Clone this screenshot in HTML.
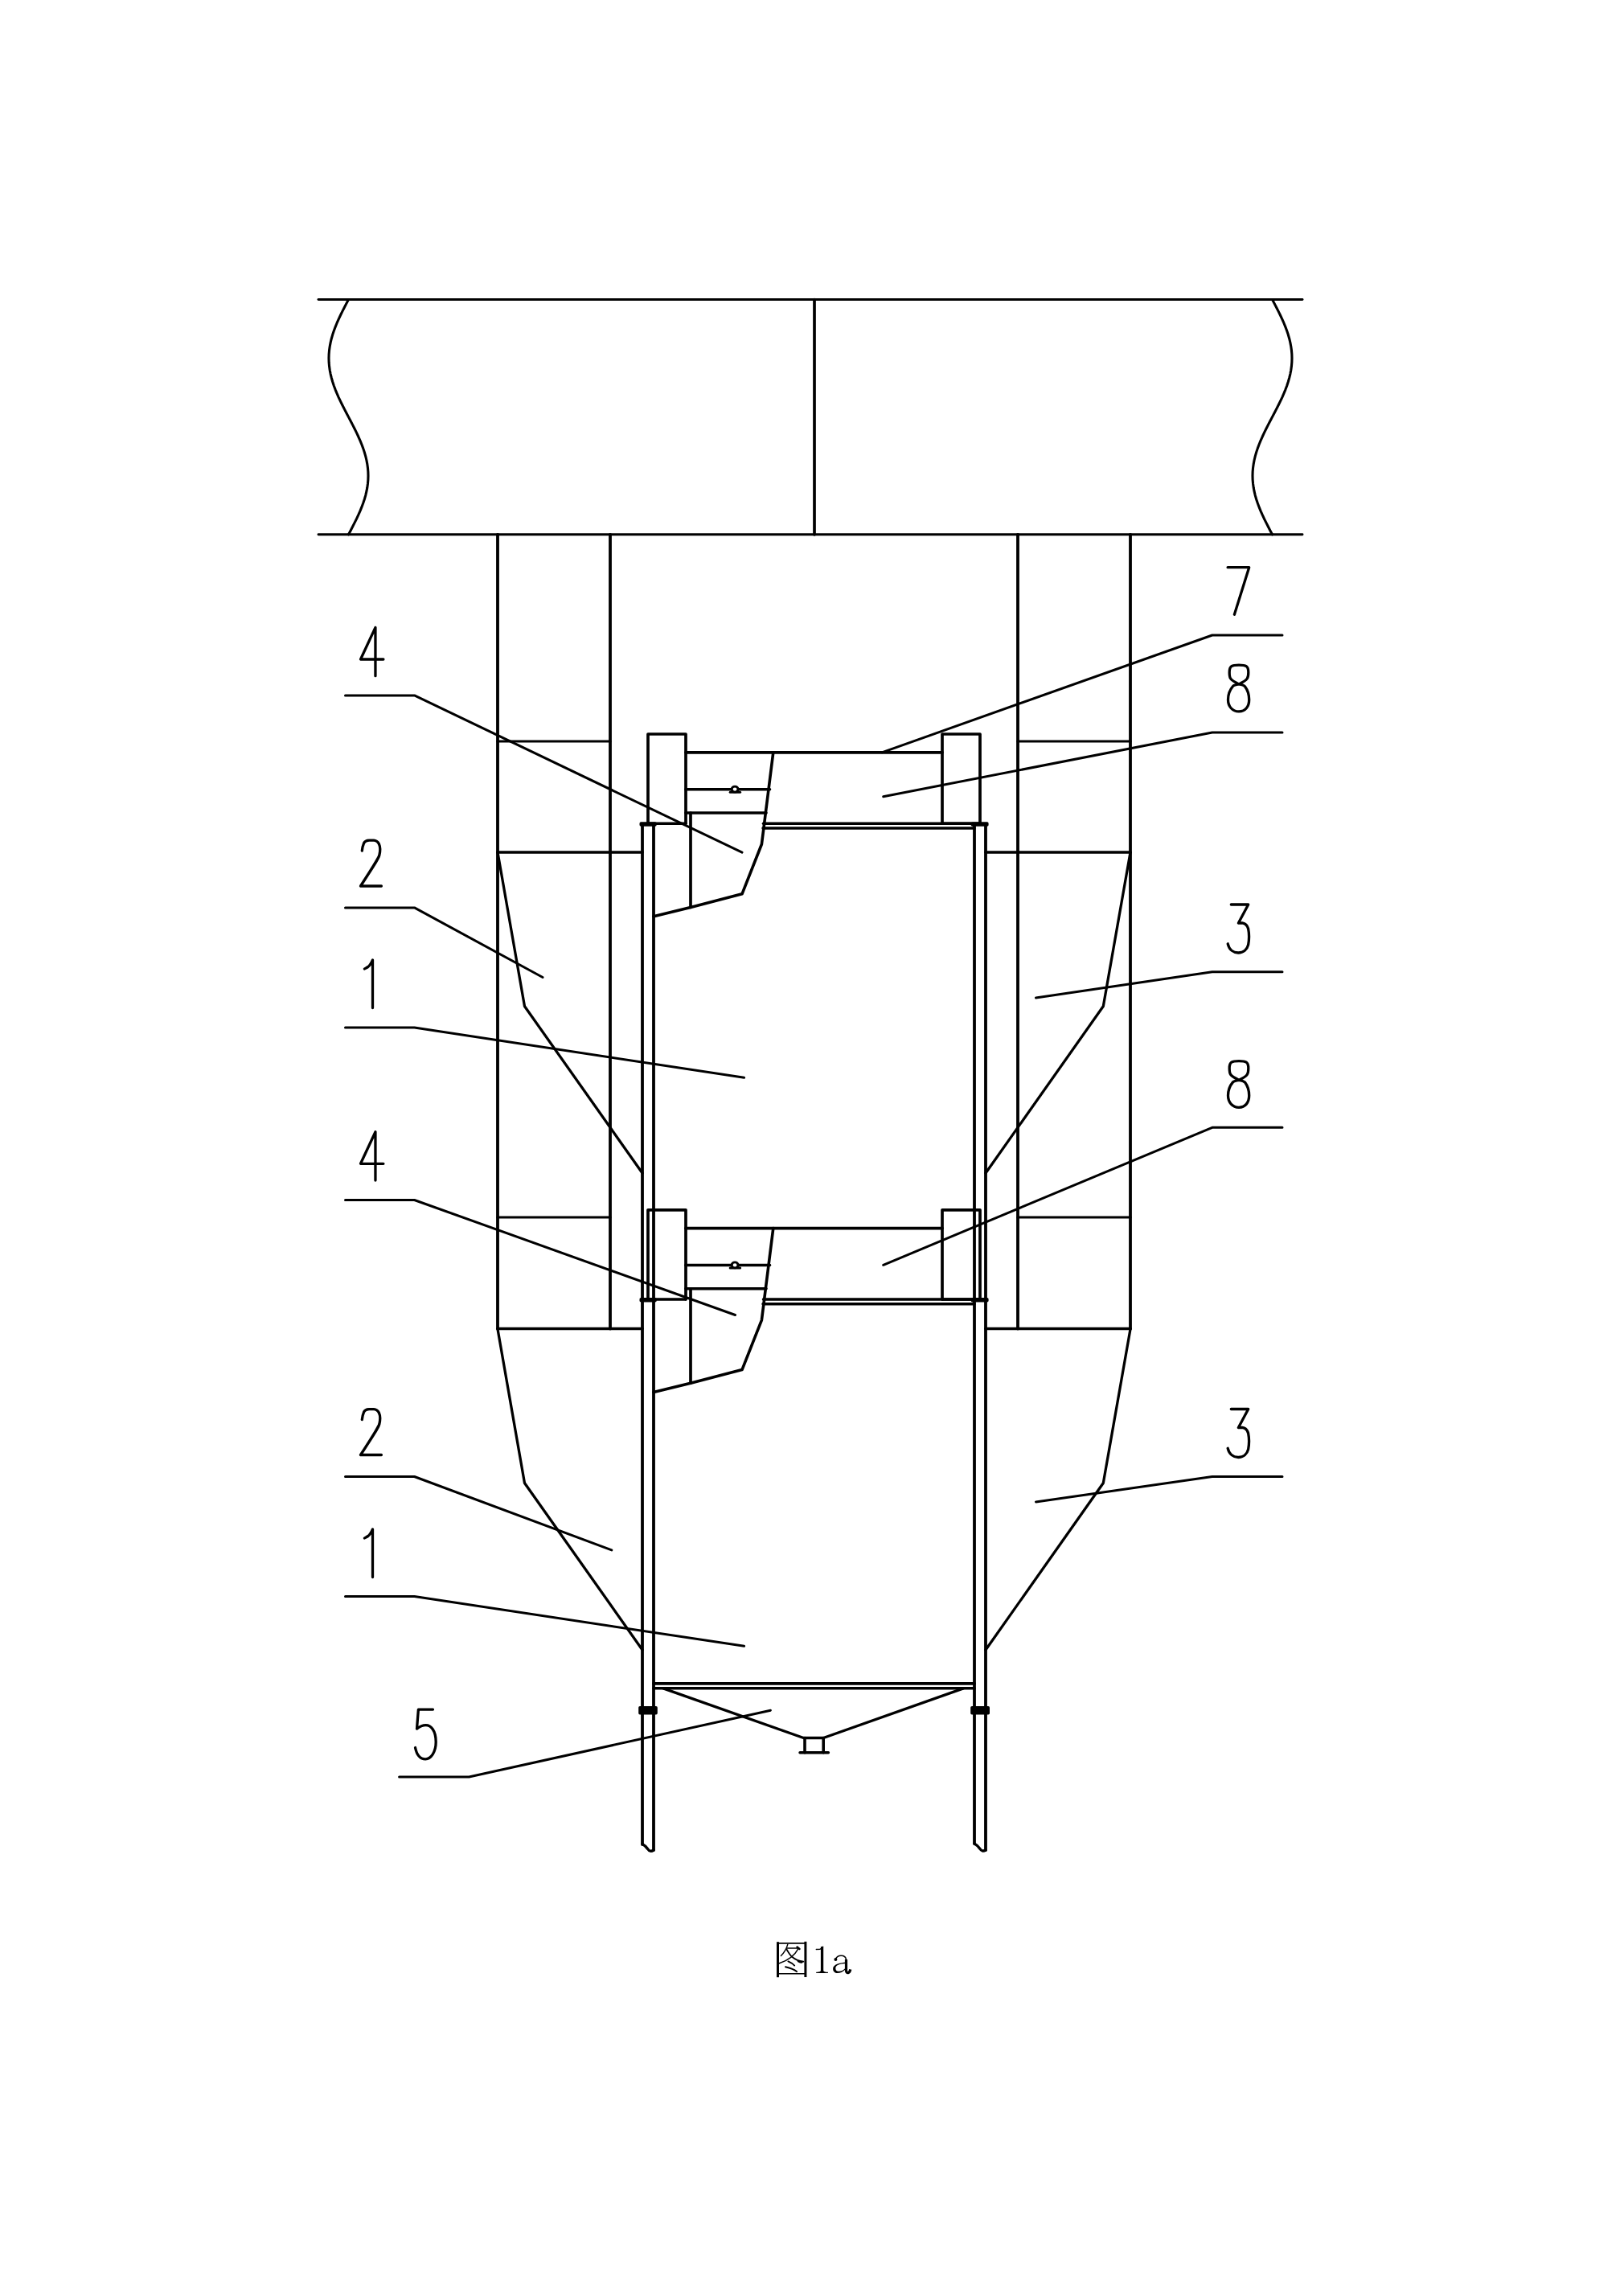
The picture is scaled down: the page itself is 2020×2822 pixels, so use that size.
<!DOCTYPE html>
<html><head><meta charset="utf-8"><style>
html,body{margin:0;padding:0;background:#fff;font-family:"Liberation Sans",sans-serif;}
body{width:2020px;height:2822px;overflow:hidden;position:relative;}
svg{position:absolute;left:0;top:0;}
</style></head><body>
<svg width="2020" height="2822" viewBox="0 0 2020 2822">
<g fill="none" stroke="#000" stroke-linecap="round" stroke-linejoin="round">
<line x1="396.0" y1="372.5" x2="1620.0" y2="372.5" stroke-width="2.9"/>
<line x1="396.0" y1="664.8" x2="1620.0" y2="664.8" stroke-width="2.9"/>
<line x1="1013.0" y1="372.5" x2="1013.0" y2="664.8" stroke-width="3.7"/>
<path d="M433.50,372.50 L430.94,377.37 L428.41,382.24 L425.93,387.12 L423.53,391.99 L421.25,396.86 L419.10,401.73 L417.11,406.60 L415.29,411.47 L413.68,416.34 L412.28,421.22 L411.12,426.09 L410.20,430.96 L409.54,435.83 L409.13,440.70 L409.00,445.57 L409.13,450.45 L409.54,455.32 L410.20,460.19 L411.12,465.06 L412.28,469.93 L413.68,474.80 L415.29,479.68 L417.11,484.55 L419.10,489.42 L421.25,494.29 L423.53,499.16 L425.93,504.03 L428.41,508.91 L430.94,513.78 L433.50,518.65 L436.06,523.52 L438.59,528.39 L441.07,533.26 L443.47,538.14 L445.75,543.01 L447.90,547.88 L449.89,552.75 L451.71,557.62 L453.32,562.50 L454.72,567.37 L455.88,572.24 L456.80,577.11 L457.46,581.98 L457.87,586.85 L458.00,591.72 L457.87,596.60 L457.46,601.47 L456.80,606.34 L455.88,611.21 L454.72,616.08 L453.32,620.95 L451.71,625.83 L449.89,630.70 L447.90,635.57 L445.75,640.44 L443.47,645.31 L441.07,650.18 L438.59,655.06 L436.06,659.93 L433.50,664.80" stroke-width="3.1"/>
<path d="M1582.50,372.50 L1585.06,377.37 L1587.59,382.24 L1590.07,387.12 L1592.47,391.99 L1594.75,396.86 L1596.90,401.73 L1598.89,406.60 L1600.71,411.47 L1602.32,416.34 L1603.72,421.22 L1604.88,426.09 L1605.80,430.96 L1606.46,435.83 L1606.87,440.70 L1607.00,445.57 L1606.87,450.45 L1606.46,455.32 L1605.80,460.19 L1604.88,465.06 L1603.72,469.93 L1602.32,474.80 L1600.71,479.68 L1598.89,484.55 L1596.90,489.42 L1594.75,494.29 L1592.47,499.16 L1590.07,504.03 L1587.59,508.91 L1585.06,513.78 L1582.50,518.65 L1579.94,523.52 L1577.41,528.39 L1574.93,533.26 L1572.53,538.14 L1570.25,543.01 L1568.10,547.88 L1566.11,552.75 L1564.29,557.62 L1562.68,562.50 L1561.28,567.37 L1560.12,572.24 L1559.20,577.11 L1558.54,581.98 L1558.13,586.85 L1558.00,591.72 L1558.13,596.60 L1558.54,601.47 L1559.20,606.34 L1560.12,611.21 L1561.28,616.08 L1562.68,620.95 L1564.29,625.83 L1566.11,630.70 L1568.10,635.57 L1570.25,640.44 L1572.53,645.31 L1574.93,650.18 L1577.41,655.06 L1579.94,659.93 L1582.50,664.80" stroke-width="3.1"/>
<line x1="619.0" y1="664.8" x2="619.0" y2="1652.5" stroke-width="3.8"/>
<line x1="759.0" y1="664.8" x2="759.0" y2="1652.5" stroke-width="3.8"/>
<line x1="1266.0" y1="664.8" x2="1266.0" y2="1652.5" stroke-width="3.8"/>
<line x1="1406.0" y1="664.8" x2="1406.0" y2="1652.5" stroke-width="3.8"/>
<line x1="619.0" y1="922.0" x2="759.0" y2="922.0" stroke-width="3.2"/>
<line x1="1266.0" y1="922.0" x2="1406.0" y2="922.0" stroke-width="3.2"/>
<line x1="619.0" y1="1514.0" x2="759.0" y2="1514.0" stroke-width="3.2"/>
<line x1="1266.0" y1="1514.0" x2="1406.0" y2="1514.0" stroke-width="3.2"/>
<line x1="619.0" y1="1060.0" x2="799.0" y2="1060.0" stroke-width="3.6"/>
<line x1="1226.0" y1="1060.0" x2="1406.0" y2="1060.0" stroke-width="3.6"/>
<line x1="619.0" y1="1652.5" x2="799.0" y2="1652.5" stroke-width="3.6"/>
<line x1="1226.0" y1="1652.5" x2="1406.0" y2="1652.5" stroke-width="3.6"/>
<path d="M619.0,1060.0 L652.5,1251.5 L799.0,1459.0" stroke-width="3.3"/>
<path d="M1406.0,1060.0 L1372.3,1251.5 L1226.0,1459.0" stroke-width="3.3"/>
<path d="M619.0,1653.0 L652.5,1844.5 L799.0,2052.0" stroke-width="3.3"/>
<path d="M1406.0,1653.0 L1372.3,1844.5 L1226.0,2052.0" stroke-width="3.3"/>
<line x1="799.0" y1="1026.0" x2="799.0" y2="2294.0" stroke-width="3.8"/>
<line x1="813.0" y1="1026.0" x2="813.0" y2="2301.0" stroke-width="3.8"/>
<line x1="1212.0" y1="1026.0" x2="1212.0" y2="2293.0" stroke-width="3.8"/>
<line x1="1226.0" y1="1026.0" x2="1226.0" y2="2301.0" stroke-width="3.8"/>
<path d="M799,2293.5 C 802,2295 804,2297 806,2300 C 807.5,2302.5 810,2303 813,2301" stroke-width="3.4" />
<path d="M1212,2293 C 1215,2294.5 1217,2296.5 1219,2299.5 C 1220.5,2302 1223,2302.8 1226,2301" stroke-width="3.4" />
<rect x="794.2" y="2122" width="23.6" height="10.6" rx="1.8" fill="#000" stroke="none"/>
<rect x="1207.2" y="2122" width="23.8" height="10.6" rx="1.8" fill="#000" stroke="none"/>
<path d="M806.0,1024.0 L806.0,913.0 L853.0,913.0 L853.0,1024.0" stroke-width="3.7"/>
<path d="M1172.0,1024.0 L1172.0,913.0 L1219.0,913.0 L1219.0,1024.0" stroke-width="3.7"/>
<line x1="853.0" y1="935.8" x2="1172.0" y2="935.8" stroke-width="3.7"/>
<line x1="853.0" y1="981.7" x2="957.5" y2="981.7" stroke-width="3.6"/>
<line x1="853.0" y1="1011.0" x2="953.0" y2="1011.0" stroke-width="3.6"/>
<line x1="908.2" y1="985.2" x2="920.6" y2="985.2" stroke-width="3.0"/>
<ellipse cx="914.1" cy="981.6" rx="3.9" ry="3.5" stroke-width="2.9" fill="#fff"/>
<path d="M961.8,935.8 L947.4,1050.0 L923.0,1111.8 L859.0,1128.4 L813.0,1139.8" stroke-width="3.6"/>
<line x1="859.0" y1="1011.0" x2="859.0" y2="1128.4" stroke-width="3.7"/>
<line x1="949.5" y1="1024.2" x2="1208.0" y2="1024.2" stroke-width="3.5"/>
<line x1="949.0" y1="1030.0" x2="1212.0" y2="1030.0" stroke-width="3.5"/>
<line x1="806.0" y1="1024.3" x2="853.0" y2="1024.3" stroke-width="3.5"/>
<line x1="1172.0" y1="1024.3" x2="1219.0" y2="1024.3" stroke-width="3.5"/>
<rect x="795.5" y="1022.2" width="21.2" height="5.6" rx="1.8" fill="#000" stroke="none"/>
<rect x="1207.7" y="1022.2" width="21.9" height="5.6" rx="1.8" fill="#000" stroke="none"/>
<path d="M806.0,1615.8 L806.0,1504.8 L853.0,1504.8 L853.0,1615.8" stroke-width="3.7"/>
<path d="M1172.0,1615.8 L1172.0,1504.8 L1219.0,1504.8 L1219.0,1615.8" stroke-width="3.7"/>
<line x1="853.0" y1="1527.6" x2="1172.0" y2="1527.6" stroke-width="3.7"/>
<line x1="853.0" y1="1573.5" x2="957.5" y2="1573.5" stroke-width="3.6"/>
<line x1="853.0" y1="1602.8" x2="953.0" y2="1602.8" stroke-width="3.6"/>
<line x1="908.2" y1="1577.0" x2="920.6" y2="1577.0" stroke-width="3.0"/>
<ellipse cx="914.1" cy="1573.4" rx="3.9" ry="3.5" stroke-width="2.9" fill="#fff"/>
<path d="M961.8,1527.6 L947.4,1641.8 L923.0,1703.6 L859.0,1720.2 L813.0,1731.6" stroke-width="3.6"/>
<line x1="859.0" y1="1602.8" x2="859.0" y2="1720.2" stroke-width="3.7"/>
<line x1="949.5" y1="1616.0" x2="1208.0" y2="1616.0" stroke-width="3.5"/>
<line x1="949.0" y1="1621.8" x2="1212.0" y2="1621.8" stroke-width="3.5"/>
<line x1="806.0" y1="1616.1" x2="853.0" y2="1616.1" stroke-width="3.5"/>
<line x1="1172.0" y1="1616.1" x2="1219.0" y2="1616.1" stroke-width="3.5"/>
<rect x="795.5" y="1614.0" width="21.2" height="5.6" rx="1.8" fill="#000" stroke="none"/>
<rect x="1207.7" y="1614.0" width="21.9" height="5.6" rx="1.8" fill="#000" stroke="none"/>
<line x1="813.0" y1="2093.9" x2="1212.0" y2="2093.9" stroke-width="3.6"/>
<line x1="813.0" y1="2099.8" x2="1212.0" y2="2099.8" stroke-width="3.4"/>
<path d="M825.0,2099.8 L999.5,2161.5 L1024.2,2161.5 L1198.3,2099.8" stroke-width="3.4"/>
<line x1="1001.0" y1="2161.5" x2="1001.0" y2="2179.7" stroke-width="3.6"/>
<line x1="1024.2" y1="2161.5" x2="1024.2" y2="2179.7" stroke-width="3.6"/>
<line x1="995.0" y1="2179.7" x2="1030.4" y2="2179.7" stroke-width="3.4"/>
<path d="M429.5,864.9 L515.5,864.9 L923.0,1060.2" stroke-width="3.0"/>
<path d="M429.5,1128.9 L515.5,1128.9 L675.0,1215.5" stroke-width="3.0"/>
<path d="M429.5,1278.0 L515.5,1278.0 L925.6,1340.3" stroke-width="3.0"/>
<path d="M429.5,1492.5 L515.5,1492.5 L914.5,1635.5" stroke-width="3.0"/>
<path d="M429.5,1836.5 L515.5,1836.5 L760.8,1927.9" stroke-width="3.0"/>
<path d="M429.5,1985.5 L515.5,1985.5 L925.6,2047.3" stroke-width="3.0"/>
<path d="M496.6,2210.0 L583.4,2210.0 L958.4,2127.2" stroke-width="3.0"/>
<path d="M1595.0,790.0 L1507.8,790.0 L1097.0,935.8" stroke-width="3.0"/>
<path d="M1595.0,911.0 L1507.8,911.0 L1098.7,990.8" stroke-width="3.0"/>
<path d="M1595.0,1208.7 L1507.8,1208.7 L1288.5,1241.0" stroke-width="3.0"/>
<path d="M1595.0,1402.3 L1507.8,1402.3 L1098.7,1573.3" stroke-width="3.0"/>
<path d="M1595.0,1836.5 L1507.8,1836.5 L1288.5,1867.9" stroke-width="3.0"/>
<path transform="translate(448,780.2)" d="M18.95,0.2 L0.5,39.8 L28.9,39.8 M18.95,0.2 L18.95,60.5" stroke-width="3.3"/>
<path transform="translate(448,1407.5)" d="M18.95,0.2 L0.5,39.8 L28.9,39.8 M18.95,0.2 L18.95,60.5" stroke-width="3.3"/>
<path transform="translate(448,1045)" d="M2.3,13.2 C2.6,10 3.6,6 4.6,3.6 C5.8,1.2 8,0.2 11,0.1 L17,0.1 C20,0.2 22,2 23.4,4.6 C25,8 25.2,13 23.8,18.8 C22.8,22.5 20,27 0.5,57 L26.4,57" stroke-width="3.3"/>
<path transform="translate(448,1752.5)" d="M2.3,13.2 C2.6,10 3.6,6 4.6,3.6 C5.8,1.2 8,0.2 11,0.1 L17,0.1 C20,0.2 22,2 23.4,4.6 C25,8 25.2,13 23.8,18.8 C22.8,22.5 20,27 0.5,57 L26.4,57" stroke-width="3.3"/>
<path transform="translate(452,1193.9)" d="M1.4,11.1 C3,10 4.5,9.4 5.8,8.6 C8,7 10,3.5 11.5,0 L11.5,59.6" stroke-width="3.3"/>
<path transform="translate(452,1901.9)" d="M1.4,11.1 C3,10 4.5,9.4 5.8,8.6 C8,7 10,3.5 11.5,0 L11.5,59.6" stroke-width="3.3"/>
<path transform="translate(516,2126.1)" d="M22.5,0 L4.4,0 L2.5,24 C6,21.3 9.5,19.6 13.6,19.6 C20,19.6 26.2,26 26.2,40.5 C26.2,53 20,61.7 13.2,61.7 C6.8,61.7 2.4,57 0.5,47.4" stroke-width="3.3"/>
<path transform="translate(1527,705.7)" d="M0.1,0 L26.7,0 L8.4,58.5" stroke-width="3.3"/>
<path transform="translate(1527,826.7)" d="M14,24.2 C10,22.3 5.5,20 3.6,17.2 C2.4,15.4 2.2,12 2.2,9.5 C2.2,5.5 3,3.2 4.8,2 C7,0.6 10,0.5 14,0.5 C18,0.5 21,0.6 23.2,2 C25,3.2 25.8,5.5 25.8,9.5 C25.8,12 25.5,15.4 24.3,17.2 C22.5,20 18,22.3 14,24.2 C10,25 7.5,25.5 6.5,26.8 C3,31 0.5,36 0.5,43.5 C0.5,52 6,58.2 14,58.2 C22,58.2 26.7,52 26.7,43.5 C26.7,36 24.5,31 21.5,27 C20.3,25.5 18,25 14,24.2 Z" stroke-width="3.3"/>
<path transform="translate(1527,1319.1)" d="M14,24.2 C10,22.3 5.5,20 3.6,17.2 C2.4,15.4 2.2,12 2.2,9.5 C2.2,5.5 3,3.2 4.8,2 C7,0.6 10,0.5 14,0.5 C18,0.5 21,0.6 23.2,2 C25,3.2 25.8,5.5 25.8,9.5 C25.8,12 25.5,15.4 24.3,17.2 C22.5,20 18,22.3 14,24.2 C10,25 7.5,25.5 6.5,26.8 C3,31 0.5,36 0.5,43.5 C0.5,52 6,58.2 14,58.2 C22,58.2 26.7,52 26.7,43.5 C26.7,36 24.5,31 21.5,27 C20.3,25.5 18,25 14,24.2 Z" stroke-width="3.3"/>
<path transform="translate(1527,1125)" d="M4.3,0 L25.7,0 L13.4,23 L18.3,22.8 C22,23.5 24.6,26 25.6,30 C26.6,35 26.6,45 25.6,50.2 C24.2,56 19.5,60 13.2,60 C7.5,60 2,56.5 0.2,48.8" stroke-width="3.3"/>
<path transform="translate(1527,1752.5)" d="M4.3,0 L25.7,0 L13.4,23 L18.3,22.8 C22,23.5 24.6,26 25.6,30 C26.6,35 26.6,45 25.6,50.2 C24.2,56 19.5,60 13.2,60 C7.5,60 2,56.5 0.2,48.8" stroke-width="3.3"/>
<path d="M967.5,2415.2 L967.5,2459.2" stroke-width="3.0" stroke-linecap="butt"/>
<path d="M1001.9,2414.8 L1001.9,2459.0" stroke-width="3.0" stroke-linecap="butt"/>
<path d="M966,2416.9 L1003,2416.9" stroke-width="1.6" stroke-linecap="butt"/>
<path d="M966,2454.8 L1003,2454.8" stroke-width="1.6" stroke-linecap="butt"/>
<path d="M980.2,2418.2 L1002.5,2411" stroke="none"/>
<path d="M979.8,2418.3 C978.5,2423 975.5,2428.5 971.4,2432.6" stroke-width="1.4"/>
<path d="M978.8,2423.1 L993.3,2423.1 C989,2431 983,2437.5 968.8,2442" stroke-width="1.5"/>
<path d="M991.5,2421.5 L994.5,2424" stroke-width="2.4"/>
<path d="M978.6,2424.6 C981,2429 983,2432 985.5,2434 C989,2437 993,2439 999.3,2439.6" stroke-width="1.9"/>
<path d="M993,2439.2 C995,2440.4 996,2440.6 997.5,2440.2" stroke-width="2.6"/>
<path d="M980.4,2439.4 C983.5,2440.8 986.5,2442.5 988.2,2444.6" stroke-width="1.9"/>
<path d="M977,2446.3 C982,2447.5 987.5,2449.2 991,2452.1" stroke-width="2.0"/>
<path d="M1020.9,2421 L1024.2,2421 L1024.2,2450.8 C1024.5,2452.4 1026.5,2452.8 1029.9,2452.8 L1029.9,2454.1 L1015.2,2454.1 L1015.2,2452.8 C1018.5,2452.8 1020.6,2452.4 1020.9,2450.8 Z" fill="#000" stroke="none"/>
<path d="M1015.3,2424.5 L1019.8,2424.3 C1021.5,2424 1022.8,2422.8 1023.5,2421.2" stroke-width="1.4"/>
<path d="M1052.4,2440.6 C1046,2441.2 1036.1,2442.8 1036.1,2448.6 C1036.1,2452.2 1038.6,2454.1 1041.6,2454.1 C1045,2454.1 1048.5,2452.6 1051.2,2449.8 L1051.2,2448.2 C1048.8,2450.6 1046.2,2451.7 1043.2,2451.7 C1040.6,2451.7 1039.3,2450.2 1039.3,2447.9 C1039.3,2444.3 1044,2442.3 1052.4,2441.9 Z" fill="#000" stroke="none"/>
<path d="M1039.4,2436.6 C1040.6,2433.6 1043.5,2432.3 1046.2,2432.3 C1049.8,2432.3 1052.2,2434 1052.5,2437.5" stroke-width="1.5"/>
<path d="M1052.5,2437 L1052.5,2451.2 C1052.6,2453 1053.6,2453.9 1055,2453.6 C1056.4,2453.2 1057.3,2451.7 1057.8,2449.4" stroke-width="3.2" stroke-linecap="butt"/>
<circle cx="1039.4" cy="2437" r="2.0" fill="#000" stroke="none"/>
</g>
</svg>
</body></html>
